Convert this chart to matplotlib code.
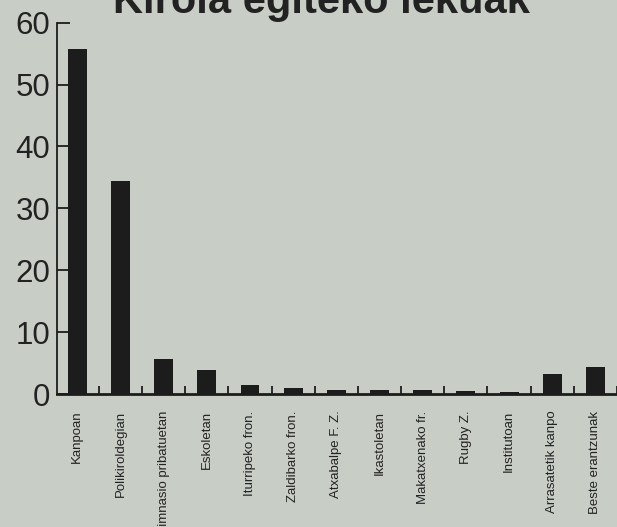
import matplotlib
matplotlib.use("Agg")
import matplotlib.pyplot as plt
import numpy as np

categories = ["Kanpoan", "Polikiroldegian", "Gimnasio pribatuetan", "Eskoletan",
              "Iturripeko fron.", "Zaldibarko fron.", "Atxabalpe F. Z.", "Ikastoletan",
              "Makatxenako fr.", "Rugby Z.", "Institutoan", "Arrasatetik kanpo",
              "Beste erantzunak"]
values = [55.7, 34.5, 5.7, 3.9, 1.5, 1.0, 0.7, 0.7, 0.6, 0.5, 0.4, 3.3, 4.4]
yticks = [0, 10, 20, 30, 40, 50, 60]
title = "Kirola egiteko lekuak"

bg = "#c8cec6"
ink = "#1c1c1c"
plt.rcParams['font.family'] = ['Liberation Sans', 'DejaVu Sans']

fig = plt.figure(figsize=(6.17, 5.27), dpi=100, facecolor=bg)
ax = fig.add_axes([57/617, 133/527, 1 - 57/617, (394 - 22.7)/527])
ax.set_facecolor(bg)

x = np.arange(len(categories))
ax.bar(x, values, width=0.44, color=ink, zorder=3)

ax.set_xlim(-0.47, 12.43)
ax.set_ylim(0, 60)

for s in ["top", "right"]:
    ax.spines[s].set_visible(False)
ax.spines["left"].set_linewidth(1.3)
ax.spines["left"].set_color(ink)
ax.spines["bottom"].set_linewidth(2.0)
ax.spines["bottom"].set_color(ink)

ax.set_yticks(yticks)
ax.set_yticklabels([str(v) for v in yticks], fontsize=22.5, color="#222222")
ax.tick_params(axis="y", direction="in", length=9.5, width=1.3, color=ink, pad=5)

ax.set_xticks(x + 0.5, minor=True)
ax.set_xticks(x)
ax.set_xticklabels(categories, rotation=90, fontsize=9.5, color="#222222", va="top")
ax.tick_params(axis="x", which="major", length=0, pad=12)
ax.tick_params(axis="x", which="minor", direction="in", length=6, width=1.3, color=ink)

fig.text(113/617, 1 - 13/527, title, ha="left", va="baseline",
         fontsize=30, fontweight="bold", color="#222222")

fig.savefig("out.png", dpi=100, facecolor=bg)
